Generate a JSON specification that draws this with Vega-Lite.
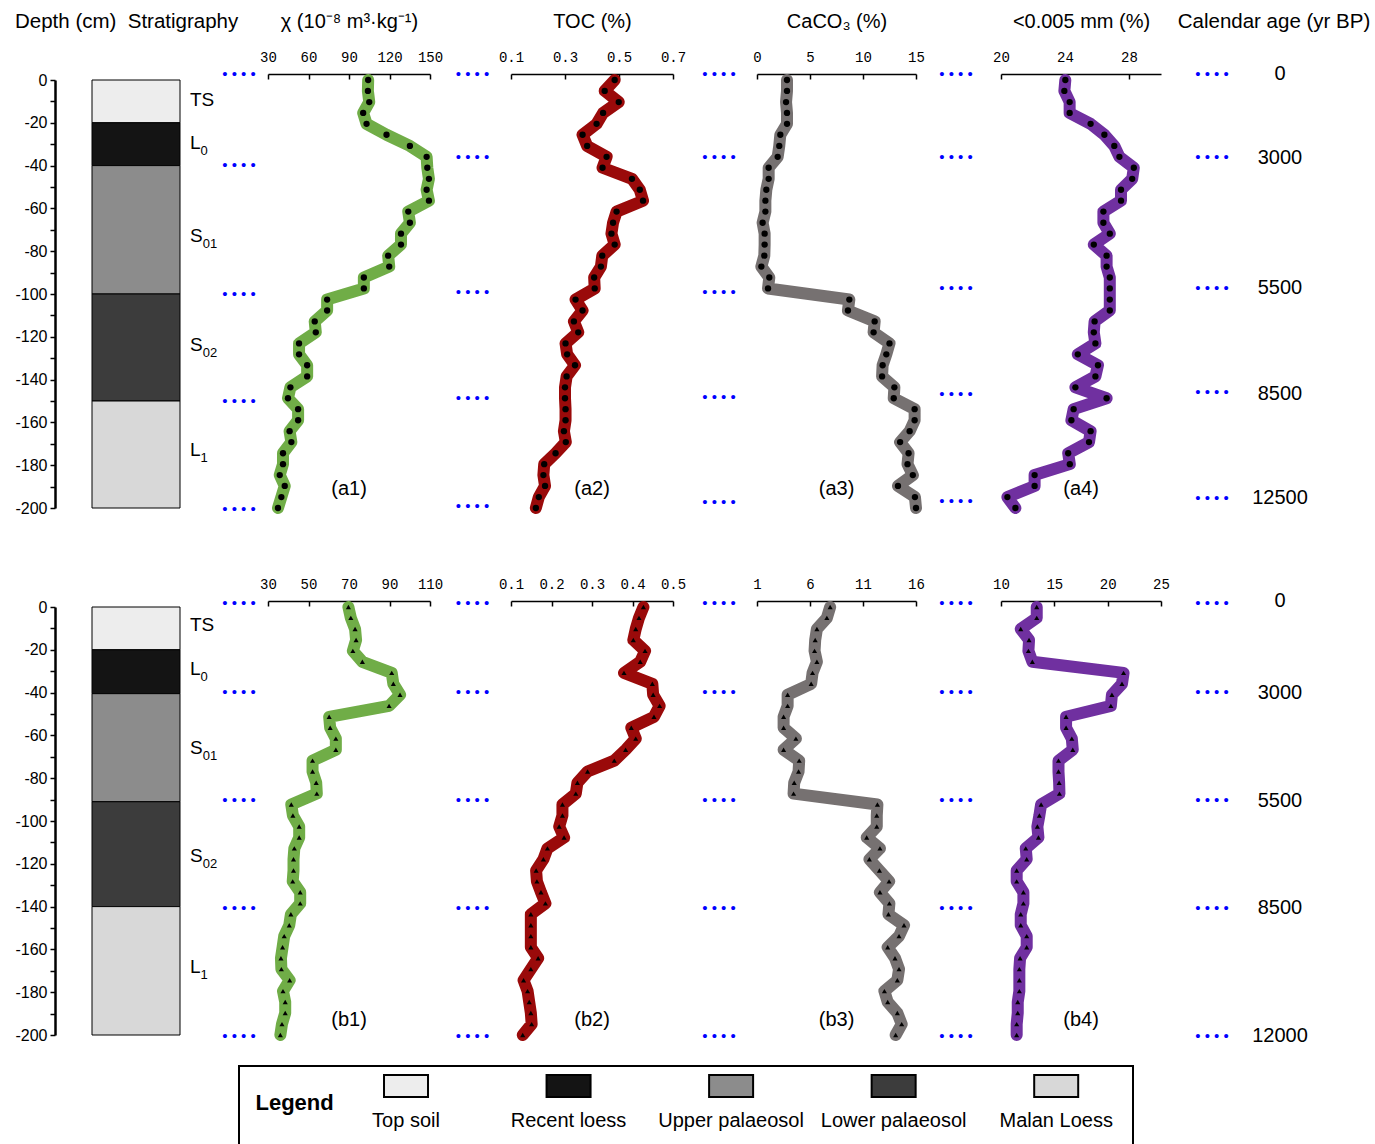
{
"$schema":"https://vega.github.io/schema/vega-lite/v6.json",
"padding":{"left":14,"top":11,"right":0,"bottom":0},
"config":{"view":{"stroke":null},"font":"Liberation Sans",
"axisTop":{"offset":6,"domainColor":"black","domainWidth":1.5,"tickColor":"black","tickWidth":1.5,"tickSize":-5,"labelFont":"Liberation Mono","labelFontSize":14,"labelPadding":15,"labelFlush":false,"labelOverlap":false,"labelColor":"black","titleFont":"Liberation Sans","titleFontSize":20,"titleFontWeight":"normal","titleColor":"black","titlePadding":23,"titleBaseline":"alphabetic","grid":false},
"axisLeft":{"offset":37,"domainColor":"black","domainWidth":2.5,"tickColor":"black","tickWidth":1.5,"tickSize":5,"labelFont":"Liberation Sans","labelFontSize":16,"labelPadding":3,"labelColor":"black","grid":false,"title":null},
"title":{"font":"Liberation Sans","fontSize":20,"fontWeight":"normal","color":"black"}},
"datasets":{
"prof":[
{"d":0,"a1":104.2,"a2":0.484,"a3":2.83,"a4":24.02,"b1":69.7,"b2":0.427,"b3":7.9,"b4":13.35},
{"d":-5.1,"a1":104,"a2":0.447,"a3":2.83,"a4":23.96,"b1":70.9,"b2":0.416,"b3":7.59,"b4":13.35},
{"d":-10.3,"a1":105,"a2":0.499,"a3":2.74,"a4":24.29,"b1":73,"b2":0.408,"b3":6.65,"b4":11.85},
{"d":-15.4,"a1":100.5,"a2":0.441,"a3":2.83,"a4":24.29,"b1":73.5,"b2":0.402,"b3":6.49,"b4":12.63},
{"d":-20.5,"a1":103,"a2":0.417,"a3":2.83,"a4":25.6,"b1":71.9,"b2":0.431,"b3":6.43,"b4":12.57},
{"d":-25.6,"a1":117.8,"a2":0.365,"a3":2.2,"a4":26.46,"b1":76.6,"b2":0.419,"b3":6.65,"b4":12.94},
{"d":-30.8,"a1":135.1,"a2":0.382,"a3":2.1,"a4":27.08,"b1":91.1,"b2":0.379,"b3":6.24,"b4":21.49},
{"d":-35.9,"a1":147.5,"a2":0.454,"a3":1.95,"a4":27.4,"b1":91.9,"b2":0.449,"b3":6.11,"b4":21.34},
{"d":-41.0,"a1":148,"a2":0.439,"a3":1.1,"a4":28.3,"b1":95.2,"b2":0.451,"b3":3.89,"b4":20.4},
{"d":-46.2,"a1":149.2,"a2":0.548,"a3":1.1,"a4":28.2,"b1":89.8,"b2":0.467,"b3":3.89,"b4":20.3},
{"d":-51.3,"a1":147.5,"a2":0.577,"a3":0.88,"a4":27.5,"b1":60.2,"b2":0.453,"b3":3.51,"b4":16.1},
{"d":-56.4,"a1":149.2,"a2":0.589,"a3":0.79,"a4":27.5,"b1":60.7,"b2":0.397,"b3":3.51,"b4":16.1},
{"d":-61.5,"a1":133.9,"a2":0.491,"a3":0.79,"a4":26.4,"b1":63.5,"b2":0.408,"b3":4.67,"b4":16.64},
{"d":-66.7,"a1":135.1,"a2":0.478,"a3":0.53,"a4":26.4,"b1":63.5,"b2":0.383,"b3":3.51,"b4":16.73},
{"d":-71.8,"a1":128.5,"a2":0.472,"a3":0.72,"a4":26.8,"b1":52,"b2":0.355,"b3":4.98,"b4":15.39},
{"d":-76.9,"a1":128.5,"a2":0.484,"a3":0.72,"a4":25.8,"b1":52,"b2":0.289,"b3":4.92,"b4":15.39},
{"d":-82.1,"a1":119,"a2":0.438,"a3":0.69,"a4":26.6,"b1":53.8,"b2":0.264,"b3":4.51,"b4":15.45},
{"d":-87.2,"a1":119.8,"a2":0.433,"a3":0.41,"a4":26.6,"b1":54.1,"b2":0.26,"b3":4.45,"b4":15.48},
{"d":-92.3,"a1":101,"a2":0.408,"a3":1.16,"a4":26.8,"b1":41.5,"b2":0.227,"b3":12.36,"b4":13.76},
{"d":-97.4,"a1":101,"a2":0.41,"a3":1.04,"a4":26.8,"b1":42.3,"b2":0.227,"b3":12.3,"b4":13.6},
{"d":-102.6,"a1":73.8,"a2":0.339,"a3":8.71,"a4":26.8,"b1":45.4,"b2":0.219,"b3":12.3,"b4":13.41},
{"d":-107.7,"a1":73.8,"a2":0.365,"a3":8.58,"a4":26.8,"b1":45.4,"b2":0.231,"b3":11.35,"b4":13.51},
{"d":-112.8,"a1":64.6,"a2":0.333,"a3":11.1,"a4":25.85,"b1":43,"b2":0.19,"b3":12.6,"b4":12.32},
{"d":-117.9,"a1":65.4,"a2":0.349,"a3":11.0,"a4":25.8,"b1":42.6,"b2":0.18,"b3":11.6,"b4":12.41},
{"d":-123.1,"a1":53,"a2":0.302,"a3":12.5,"a4":25.9,"b1":42.6,"b2":0.162,"b3":12.55,"b4":11.47},
{"d":-128.2,"a1":53,"a2":0.308,"a3":12.2,"a4":24.8,"b1":42.2,"b2":0.164,"b3":13.46,"b4":11.47},
{"d":-133.3,"a1":59,"a2":0.337,"a3":11.85,"a4":26.06,"b1":45.9,"b2":0.174,"b3":12.6,"b4":12.1},
{"d":-138.5,"a1":59,"a2":0.306,"a3":11.8,"a4":25.9,"b1":45.9,"b2":0.185,"b3":13.49,"b4":12.1},
{"d":-143.6,"a1":46.6,"a2":0.3,"a3":12.96,"a4":24.65,"b1":41.3,"b2":0.149,"b3":13.4,"b4":11.85},
{"d":-148.7,"a1":44.8,"a2":0.3,"a3":12.9,"a4":26.6,"b1":40.5,"b2":0.149,"b3":14.87,"b4":11.85},
{"d":-153.8,"a1":52.3,"a2":0.302,"a3":14.87,"a4":24.54,"b1":38,"b2":0.149,"b3":14.4,"b4":12.41},
{"d":-159.0,"a1":52.3,"a2":0.302,"a3":14.87,"a4":24.4,"b1":37.2,"b2":0.149,"b3":13.33,"b4":12.41},
{"d":-164.1,"a1":46,"a2":0.296,"a3":14.4,"a4":25.6,"b1":36.4,"b2":0.167,"b3":14.02,"b4":11.79},
{"d":-169.2,"a1":47.3,"a2":0.303,"a3":13.5,"a4":25.5,"b1":36.6,"b2":0.149,"b3":14.4,"b4":11.72},
{"d":-174.4,"a1":41.1,"a2":0.265,"a3":14.3,"a4":24.2,"b1":40.7,"b2":0.131,"b3":14.24,"b4":11.72},
{"d":-179.5,"a1":41.1,"a2":0.223,"a3":14.2,"a4":24.3,"b1":37.4,"b2":0.141,"b3":13.02,"b4":11.72},
{"d":-184.6,"a1":38.7,"a2":0.22,"a3":14.7,"a4":22.1,"b1":38.5,"b2":0.145,"b3":13.33,"b4":11.57},
{"d":-189.7,"a1":42.4,"a2":0.226,"a3":13.3,"a4":22.1,"b1":38.5,"b2":0.149,"b3":14.24,"b4":11.57},
{"d":-194.9,"a1":39.9,"a2":0.203,"a3":14.9,"a4":20.4,"b1":36.9,"b2":0.151,"b3":14.65,"b4":11.47},
{"d":-200,"a1":37.4,"a2":0.192,"a3":15.0,"a4":20.9,"b1":36.1,"b2":0.129,"b3":14.08,"b4":11.47}
],
"strat":[
{"row":"a","type":"Top soil","top":0,"bot":-20,"mid":-9.3,"m":"TS","s":""},
{"row":"a","type":"Recent loess","top":-20,"bot":-40,"mid":-29.5,"m":"L","s":"0"},
{"row":"a","type":"Upper palaeosol","top":-40,"bot":-100,"mid":-73,"m":"S","s":"01"},
{"row":"a","type":"Lower palaeosol","top":-100,"bot":-150,"mid":-124,"m":"S","s":"02"},
{"row":"a","type":"Malan Loess","top":-150,"bot":-200,"mid":-173,"m":"L","s":"1"},
{"row":"b","type":"Top soil","top":0,"bot":-20,"mid":-8.3,"m":"TS","s":""},
{"row":"b","type":"Recent loess","top":-20,"bot":-40.5,"mid":-29,"m":"L","s":"0"},
{"row":"b","type":"Upper palaeosol","top":-40.5,"bot":-91,"mid":-65.7,"m":"S","s":"01"},
{"row":"b","type":"Lower palaeosol","top":-91,"bot":-140,"mid":-116.3,"m":"S","s":"02"},
{"row":"b","type":"Malan Loess","top":-140,"bot":-200,"mid":-168,"m":"L","s":"1"}
],
"dots":[
{"g":"a1","d":2.8},{"g":"a1","d":-39.7},{"g":"a1","d":-100},{"g":"a1","d":-150},{"g":"a1","d":-200.5},
{"g":"a2","d":2.8},{"g":"a2","d":-36},{"g":"a2","d":-99},{"g":"a2","d":-148.6},{"g":"a2","d":-199},
{"g":"a3","d":2.8},{"g":"a3","d":-36},{"g":"a3","d":-99},{"g":"a3","d":-148},{"g":"a3","d":-197},
{"g":"a4","d":2.8},{"g":"a4","d":-36},{"g":"a4","d":-97},{"g":"a4","d":-146.7},{"g":"a4","d":-196.7},
{"g":"a5","d":2.8},{"g":"a5","d":-36},{"g":"a5","d":-97},{"g":"a5","d":-146},{"g":"a5","d":-195.3},
{"g":"b1","d":2},{"g":"b1","d":-39.6},{"g":"b1","d":-90},{"g":"b1","d":-140.5},{"g":"b1","d":-200.3},
{"g":"b2","d":2},{"g":"b2","d":-39.6},{"g":"b2","d":-90},{"g":"b2","d":-140.5},{"g":"b2","d":-200.3},
{"g":"b3","d":2},{"g":"b3","d":-39.6},{"g":"b3","d":-90},{"g":"b3","d":-140.5},{"g":"b3","d":-200.3},
{"g":"b4","d":2},{"g":"b4","d":-39.6},{"g":"b4","d":-90},{"g":"b4","d":-140.5},{"g":"b4","d":-200.3},
{"g":"b5","d":2},{"g":"b5","d":-39.6},{"g":"b5","d":-90},{"g":"b5","d":-140.5},{"g":"b5","d":-200.3}
],
"ages":[
{"row":"a","t":"0","d":2.8},{"row":"a","t":"3000","d":-36.4},{"row":"a","t":"5500","d":-97.2},{"row":"a","t":"8500","d":-146.7},{"row":"a","t":"12500","d":-195.3},
{"row":"b","t":"0","d":2.9},{"row":"b","t":"3000","d":-40},{"row":"b","t":"5500","d":-90.5},{"row":"b","t":"8500","d":-140.5},{"row":"b","t":"12000","d":-200.3}
]
},
"vconcat":[
{"vconcat":[
{"hconcat":[
{"width":88,"height":428,"data":{"name":"strat"},"transform":[{"filter":"datum.row=='a'"}],
"title":{"text":"Depth (cm)\u00a0\u00a0Stratigraphy","anchor":"start","frame":"bounds","baseline":"alphabetic","offset":24,"fontSize":20.5},
"mark":{"type":"rect","stroke":"black","strokeWidth":1},
"encoding":{"y":{"field":"top","type":"quantitative","scale":{"domain":[-200,0],"nice":false,"zero":false},"axis":{"values":[0,-10,-20,-30,-40,-50,-60,-70,-80,-90,-100,-110,-120,-130,-140,-150,-160,-170,-180,-190,-200],"labelExpr":"datum.value % 20 === 0 ? replace(datum.label, '\u2212', '-') : ''"}},"y2":{"field":"bot"},
"fill":{"field":"type","type":"nominal","scale":{"domain":["Top soil","Recent loess","Upper palaeosol","Lower palaeosol","Malan Loess"],"range":["#ededed","#141414","#8c8c8c","#3c3c3c","#d8d8d8"]},"legend":null}}},
{"width":44,"height":428,"data":{"name":"strat"},"transform":[{"filter":"datum.row=='a'"}],
"encoding":{"y":{"field":"mid","type":"quantitative","scale":{"domain":[-200,0],"nice":false,"zero":false},"axis":null}},
"layer":[
{"mark":{"type":"text","fontSize":19,"baseline":"middle","align":"left","dx":-12,"color":"black"},"encoding":{"text":{"field":"m"}}},
{"transform":[{"filter":"datum.m=='L'"}],"mark":{"type":"text","fontSize":13,"baseline":"middle","align":"left","dx":-1.5,"dy":8,"color":"black"},"encoding":{"text":{"field":"s"}}},
{"transform":[{"filter":"datum.m=='S'"}],"mark":{"type":"text","fontSize":13,"baseline":"middle","align":"left","dx":0.8,"dy":8,"color":"black"},"encoding":{"text":{"field":"s"}}}
]},
{"width":44,"height":428,"data":{"name":"dots"},"transform":[{"filter":"datum.g=='a1'"}],
"mark":{"type":"text","text":"•\u00a0•\u00a0•\u00a0•","fontSize":15,"baseline":"middle","color":"#0000FF","dx":-7},
"encoding":{"y":{"field":"d","type":"quantitative","scale":{"domain":[-200,0],"nice":false,"zero":false},"axis":null}}},
{"width":162,"height":428,"data":{"name":"prof"},
"layer":[
{"mark":{"type":"line","color":"#70AD47","strokeWidth":12,"strokeJoin":"round","strokeCap":"round"},
"encoding":{"x":{"field":"a1","type":"quantitative","scale":{"domain":[30,150],"nice":false,"zero":false},"axis":{"orient":"top","labelFlush":false,"values":[30,60,90,120,150],"format":"d","title":"χ (10⁻⁸ m³·kg⁻¹)"}},
"y":{"field":"d","type":"quantitative","scale":{"domain":[-200,0],"nice":false,"zero":false},"axis":null},
"order":{"field":"d","type":"quantitative","sort":"descending"}}},
{"mark":{"type":"point","shape":"circle","size":40,"filled":true,"color":"black","opacity":1},
"encoding":{"x":{"field":"a1","type":"quantitative"},"y":{"field":"d","type":"quantitative"}}},
{"data":{"values":[{"t":"(a1)"}]},"mark":{"type":"text","fontSize":20,"baseline":"middle"},"encoding":{"y":{"datum":-191},"text":{"field":"t"}}}
]},
{"width":81,"height":428,"data":{"name":"dots"},"transform":[{"filter":"datum.g=='a2'"}],
"mark":{"type":"text","text":"•\u00a0•\u00a0•\u00a0•","fontSize":15,"baseline":"middle","color":"#0000FF","dx":2},
"encoding":{"y":{"field":"d","type":"quantitative","scale":{"domain":[-200,0],"nice":false,"zero":false},"axis":null}}},
{"width":162,"height":428,"data":{"name":"prof"},
"layer":[
{"mark":{"type":"line","color":"#9A0A0A","strokeWidth":12,"strokeJoin":"round","strokeCap":"round"},
"encoding":{"x":{"field":"a2","type":"quantitative","scale":{"domain":[0.1,0.7],"nice":false,"zero":false},"axis":{"orient":"top","labelFlush":false,"values":[0.1,0.3,0.5,0.7],"format":".1f","title":"TOC (%)"}},
"y":{"field":"d","type":"quantitative","scale":{"domain":[-200,0],"nice":false,"zero":false},"axis":null},
"order":{"field":"d","type":"quantitative","sort":"descending"}}},
{"mark":{"type":"point","shape":"circle","size":40,"filled":true,"color":"black","opacity":1},
"encoding":{"x":{"field":"a2","type":"quantitative"},"y":{"field":"d","type":"quantitative"}}},
{"data":{"values":[{"t":"(a2)"}]},"mark":{"type":"text","fontSize":20,"baseline":"middle"},"encoding":{"y":{"datum":-191},"text":{"field":"t"}}}
]},
{"width":84,"height":428,"data":{"name":"dots"},"transform":[{"filter":"datum.g=='a3'"}],
"mark":{"type":"text","text":"•\u00a0•\u00a0•\u00a0•","fontSize":15,"baseline":"middle","color":"#0000FF","dx":4},
"encoding":{"y":{"field":"d","type":"quantitative","scale":{"domain":[-200,0],"nice":false,"zero":false},"axis":null}}},
{"width":159,"height":428,"data":{"name":"prof"},
"layer":[
{"mark":{"type":"line","color":"#767171","strokeWidth":12,"strokeJoin":"round","strokeCap":"round"},
"encoding":{"x":{"field":"a3","type":"quantitative","scale":{"domain":[0,15],"nice":false,"zero":false},"axis":{"orient":"top","labelFlush":false,"values":[0,5,10,15],"format":"d","title":"CaCO₃ (%)"}},
"y":{"field":"d","type":"quantitative","scale":{"domain":[-200,0],"nice":false,"zero":false},"axis":null},
"order":{"field":"d","type":"quantitative","sort":"descending"}}},
{"mark":{"type":"point","shape":"circle","size":40,"filled":true,"color":"black","opacity":1},
"encoding":{"x":{"field":"a3","type":"quantitative"},"y":{"field":"d","type":"quantitative"}}},
{"data":{"values":[{"t":"(a3)"}]},"mark":{"type":"text","fontSize":20,"baseline":"middle"},"encoding":{"y":{"datum":-191},"text":{"field":"t"}}}
]},
{"width":85,"height":428,"data":{"name":"dots"},"transform":[{"filter":"datum.g=='a4'"}],
"mark":{"type":"text","text":"•\u00a0•\u00a0•\u00a0•","fontSize":15,"baseline":"middle","color":"#0000FF","dx":-2.5},
"encoding":{"y":{"field":"d","type":"quantitative","scale":{"domain":[-200,0],"nice":false,"zero":false},"axis":null}}},
{"width":160,"height":428,"data":{"name":"prof"},
"layer":[
{"mark":{"type":"line","color":"#7030A0","strokeWidth":12,"strokeJoin":"round","strokeCap":"round"},
"encoding":{"x":{"field":"a4","type":"quantitative","scale":{"domain":[20,30],"nice":false,"zero":false},"axis":{"orient":"top","labelFlush":false,"values":[20,22,24,26,28,30],"format":"d","title":"<0.005 mm (%)"}},
"y":{"field":"d","type":"quantitative","scale":{"domain":[-200,0],"nice":false,"zero":false},"axis":null},
"order":{"field":"d","type":"quantitative","sort":"descending"}}},
{"mark":{"type":"point","shape":"circle","size":40,"filled":true,"color":"black","opacity":1},
"encoding":{"x":{"field":"a4","type":"quantitative"},"y":{"field":"d","type":"quantitative"}}},
{"data":{"values":[{"t":"(a4)"}]},"mark":{"type":"text","fontSize":20,"baseline":"middle"},"encoding":{"y":{"datum":-191},"text":{"field":"t"}}}
]},
{"width":102,"height":428,"data":{"name":"dots"},"transform":[{"filter":"datum.g=='a5'"}],
"mark":{"type":"text","text":"•\u00a0•\u00a0•\u00a0•","fontSize":15,"baseline":"middle","color":"#0000FF"},
"encoding":{"y":{"field":"d","type":"quantitative","scale":{"domain":[-200,0],"nice":false,"zero":false},"axis":null}}},
{"width":34,"height":428,"data":{"name":"ages"},"transform":[{"filter":"datum.row=='a'"}],
"title":{"text":"Calendar age (yr BP)","anchor":"middle","frame":"group","baseline":"alphabetic","offset":16,"dx":-6,"fontSize":20.5},
"mark":{"type":"text","fontSize":20,"baseline":"middle","color":"black"},
"encoding":{"y":{"field":"d","type":"quantitative","scale":{"domain":[-200,0],"nice":false,"zero":false},"axis":null},"text":{"field":"t"}}}
],"spacing":0,"bounds":"flush"},
{"hconcat":[
{"width":88,"height":428,"data":{"name":"strat"},"transform":[{"filter":"datum.row=='b'"}],
"mark":{"type":"rect","stroke":"black","strokeWidth":1},
"encoding":{"y":{"field":"top","type":"quantitative","scale":{"domain":[-200,0],"nice":false,"zero":false},"axis":{"values":[0,-10,-20,-30,-40,-50,-60,-70,-80,-90,-100,-110,-120,-130,-140,-150,-160,-170,-180,-190,-200],"labelExpr":"datum.value % 20 === 0 ? replace(datum.label, '\u2212', '-') : ''"}},"y2":{"field":"bot"},
"fill":{"field":"type","type":"nominal","scale":{"domain":["Top soil","Recent loess","Upper palaeosol","Lower palaeosol","Malan Loess"],"range":["#ededed","#141414","#8c8c8c","#3c3c3c","#d8d8d8"]},"legend":null}}},
{"width":44,"height":428,"data":{"name":"strat"},"transform":[{"filter":"datum.row=='b'"}],
"encoding":{"y":{"field":"mid","type":"quantitative","scale":{"domain":[-200,0],"nice":false,"zero":false},"axis":null}},
"layer":[
{"mark":{"type":"text","fontSize":19,"baseline":"middle","align":"left","dx":-12,"color":"black"},"encoding":{"text":{"field":"m"}}},
{"transform":[{"filter":"datum.m=='L'"}],"mark":{"type":"text","fontSize":13,"baseline":"middle","align":"left","dx":-1.5,"dy":8,"color":"black"},"encoding":{"text":{"field":"s"}}},
{"transform":[{"filter":"datum.m=='S'"}],"mark":{"type":"text","fontSize":13,"baseline":"middle","align":"left","dx":0.8,"dy":8,"color":"black"},"encoding":{"text":{"field":"s"}}}
]},
{"width":44,"height":428,"data":{"name":"dots"},"transform":[{"filter":"datum.g=='b1'"}],
"mark":{"type":"text","text":"•\u00a0•\u00a0•\u00a0•","fontSize":15,"baseline":"middle","color":"#0000FF","dx":-7},
"encoding":{"y":{"field":"d","type":"quantitative","scale":{"domain":[-200,0],"nice":false,"zero":false},"axis":null}}},
{"width":162,"height":428,"data":{"name":"prof"},
"layer":[
{"mark":{"type":"line","color":"#70AD47","strokeWidth":12,"strokeJoin":"round","strokeCap":"round"},
"encoding":{"x":{"field":"b1","type":"quantitative","scale":{"domain":[30,110],"nice":false,"zero":false},"axis":{"orient":"top","labelFlush":false,"values":[30,50,70,90,110],"format":"d","title":null}},
"y":{"field":"d","type":"quantitative","scale":{"domain":[-200,0],"nice":false,"zero":false},"axis":null},
"order":{"field":"d","type":"quantitative","sort":"descending"}}},
{"mark":{"type":"point","shape":"triangle-up","size":26,"filled":true,"color":"black","opacity":1},
"encoding":{"x":{"field":"b1","type":"quantitative"},"y":{"field":"d","type":"quantitative"}}},
{"data":{"values":[{"t":"(b1)"}]},"mark":{"type":"text","fontSize":20,"baseline":"middle"},"encoding":{"y":{"datum":-193},"text":{"field":"t"}}}
]},
{"width":81,"height":428,"data":{"name":"dots"},"transform":[{"filter":"datum.g=='b2'"}],
"mark":{"type":"text","text":"•\u00a0•\u00a0•\u00a0•","fontSize":15,"baseline":"middle","color":"#0000FF","dx":2},
"encoding":{"y":{"field":"d","type":"quantitative","scale":{"domain":[-200,0],"nice":false,"zero":false},"axis":null}}},
{"width":162,"height":428,"data":{"name":"prof"},
"layer":[
{"mark":{"type":"line","color":"#9A0A0A","strokeWidth":12,"strokeJoin":"round","strokeCap":"round"},
"encoding":{"x":{"field":"b2","type":"quantitative","scale":{"domain":[0.1,0.5],"nice":false,"zero":false},"axis":{"orient":"top","labelFlush":false,"values":[0.1,0.2,0.3,0.4,0.5],"format":".1f","title":null}},
"y":{"field":"d","type":"quantitative","scale":{"domain":[-200,0],"nice":false,"zero":false},"axis":null},
"order":{"field":"d","type":"quantitative","sort":"descending"}}},
{"mark":{"type":"point","shape":"triangle-up","size":26,"filled":true,"color":"black","opacity":1},
"encoding":{"x":{"field":"b2","type":"quantitative"},"y":{"field":"d","type":"quantitative"}}},
{"data":{"values":[{"t":"(b2)"}]},"mark":{"type":"text","fontSize":20,"baseline":"middle"},"encoding":{"y":{"datum":-193},"text":{"field":"t"}}}
]},
{"width":84,"height":428,"data":{"name":"dots"},"transform":[{"filter":"datum.g=='b3'"}],
"mark":{"type":"text","text":"•\u00a0•\u00a0•\u00a0•","fontSize":15,"baseline":"middle","color":"#0000FF","dx":4},
"encoding":{"y":{"field":"d","type":"quantitative","scale":{"domain":[-200,0],"nice":false,"zero":false},"axis":null}}},
{"width":159,"height":428,"data":{"name":"prof"},
"layer":[
{"mark":{"type":"line","color":"#767171","strokeWidth":12,"strokeJoin":"round","strokeCap":"round"},
"encoding":{"x":{"field":"b3","type":"quantitative","scale":{"domain":[1,16],"nice":false,"zero":false},"axis":{"orient":"top","labelFlush":false,"values":[1,6,11,16],"format":"d","title":null}},
"y":{"field":"d","type":"quantitative","scale":{"domain":[-200,0],"nice":false,"zero":false},"axis":null},
"order":{"field":"d","type":"quantitative","sort":"descending"}}},
{"mark":{"type":"point","shape":"triangle-up","size":26,"filled":true,"color":"black","opacity":1},
"encoding":{"x":{"field":"b3","type":"quantitative"},"y":{"field":"d","type":"quantitative"}}},
{"data":{"values":[{"t":"(b3)"}]},"mark":{"type":"text","fontSize":20,"baseline":"middle"},"encoding":{"y":{"datum":-193},"text":{"field":"t"}}}
]},
{"width":85,"height":428,"data":{"name":"dots"},"transform":[{"filter":"datum.g=='b4'"}],
"mark":{"type":"text","text":"•\u00a0•\u00a0•\u00a0•","fontSize":15,"baseline":"middle","color":"#0000FF","dx":-2.5},
"encoding":{"y":{"field":"d","type":"quantitative","scale":{"domain":[-200,0],"nice":false,"zero":false},"axis":null}}},
{"width":160,"height":428,"data":{"name":"prof"},
"layer":[
{"mark":{"type":"line","color":"#7030A0","strokeWidth":12,"strokeJoin":"round","strokeCap":"round"},
"encoding":{"x":{"field":"b4","type":"quantitative","scale":{"domain":[10,25],"nice":false,"zero":false},"axis":{"orient":"top","labelFlush":false,"values":[10,15,20,25],"format":"d","title":null}},
"y":{"field":"d","type":"quantitative","scale":{"domain":[-200,0],"nice":false,"zero":false},"axis":null},
"order":{"field":"d","type":"quantitative","sort":"descending"}}},
{"mark":{"type":"point","shape":"triangle-up","size":26,"filled":true,"color":"black","opacity":1},
"encoding":{"x":{"field":"b4","type":"quantitative"},"y":{"field":"d","type":"quantitative"}}},
{"data":{"values":[{"t":"(b4)"}]},"mark":{"type":"text","fontSize":20,"baseline":"middle"},"encoding":{"y":{"datum":-193},"text":{"field":"t"}}}
]},
{"width":102,"height":428,"data":{"name":"dots"},"transform":[{"filter":"datum.g=='b5'"}],
"mark":{"type":"text","text":"•\u00a0•\u00a0•\u00a0•","fontSize":15,"baseline":"middle","color":"#0000FF"},
"encoding":{"y":{"field":"d","type":"quantitative","scale":{"domain":[-200,0],"nice":false,"zero":false},"axis":null}}},
{"width":34,"height":428,"data":{"name":"ages"},"transform":[{"filter":"datum.row=='b'"}],
"mark":{"type":"text","fontSize":20,"baseline":"middle","color":"black"},
"encoding":{"y":{"field":"d","type":"quantitative","scale":{"domain":[-200,0],"nice":false,"zero":false},"axis":null},"text":{"field":"t"}}}
],"spacing":0,"bounds":"flush"}
],"spacing":59},
{"hconcat":[
{"width":1,"height":80,"data":{"values":[{}]},"mark":{"type":"text","text":" "}},
{"width":894,"height":80,"view":{"stroke":"black","strokeWidth":2},
"data":{"values":[{"k":"Legend"},{"k":"Top soil"},{"k":"Recent loess"},{"k":"Upper palaeosol"},{"k":"Lower palaeosol"},{"k":"Malan Loess"}]},
"encoding":{"x":{"field":"k","type":"nominal","sort":null,"scale":{"type":"point","domain":["Legend","Top soil","Recent loess","Upper palaeosol","Lower palaeosol","Malan Loess"],"padding":0.25,"align":0.055},"axis":null}},
"layer":[
{"transform":[{"filter":"datum.k!='Legend'"}],
"mark":{"type":"point","shape":"M-1,-0.5H1V0.5H-1Z","size":1936,"filled":true,"stroke":"black","strokeWidth":2,"opacity":1},
"encoding":{"y":{"datum":0.75,"scale":{"domain":[0,1]},"axis":null},
"fill":{"field":"k","type":"nominal","scale":{"domain":["Top soil","Recent loess","Upper palaeosol","Lower palaeosol","Malan Loess"],"range":["#ededed","#141414","#8c8c8c","#3c3c3c","#d8d8d8"]},"legend":null}}},
{"transform":[{"filter":"datum.k!='Legend'"}],
"mark":{"type":"text","fontSize":20,"baseline":"middle","color":"black"},
"encoding":{"y":{"datum":0.31},"text":{"field":"k"}}},
{"transform":[{"filter":"datum.k=='Legend'"}],
"mark":{"type":"text","fontSize":22,"fontWeight":"bold","align":"left","dx":12,"baseline":"middle","color":"black"},
"encoding":{"y":{"datum":0.54},"text":{"field":"k"}}}
]}
],"spacing":146,"bounds":"flush"}
],"spacing":19
}
